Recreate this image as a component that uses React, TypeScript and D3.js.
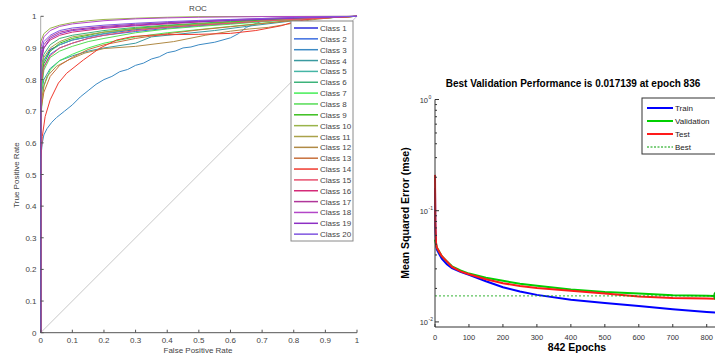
import React from "react";
import * as d3 from "d3";

// ---- ROC data (FPR, TPR) ----
const classNames = Array.from({ length: 20 }, (_, i) => "Class " + (i + 1));
const classColors = [
  "#2b2bdc", "#3b6de0", "#3c8ac4", "#3a9aa0", "#45b5a5",
  "#3cb37a", "#44ee55", "#55dd55", "#3cbf1e", "#9ab44a",
  "#aaa24a", "#b08a45", "#c8703c", "#f03a2e", "#e8506e",
  "#d42a78", "#b0369a", "#b346c8", "#8d2fc4", "#7f55e0",
];
const rocCurves: [number, number][][] = [
  [[0, 0], [0, 0.8], [0.01, 0.86], [0.03, 0.895], [0.06, 0.91], [0.1, 0.925], [0.15, 0.935], [0.2, 0.945], [0.3, 0.958], [0.4, 0.966], [0.5, 0.973], [0.6, 0.979], [0.7, 0.985], [0.8, 0.99], [0.9, 0.996], [1, 1]],
  [[0, 0], [0, 0.76], [0.01, 0.84], [0.03, 0.88], [0.06, 0.9], [0.1, 0.915], [0.15, 0.93], [0.2, 0.94], [0.3, 0.952], [0.4, 0.962], [0.5, 0.97], [0.6, 0.977], [0.7, 0.984], [0.8, 0.99], [0.9, 0.996], [1, 1]],
  [[0, 0], [0, 0.55], [0.005, 0.6], [0.01, 0.625], [0.02, 0.645], [0.035, 0.665], [0.05, 0.68], [0.075, 0.7], [0.1, 0.72], [0.125, 0.745], [0.15, 0.765], [0.175, 0.785], [0.2, 0.8], [0.225, 0.81], [0.25, 0.825], [0.275, 0.832], [0.3, 0.845], [0.325, 0.852], [0.35, 0.865], [0.375, 0.872], [0.4, 0.885], [0.425, 0.89], [0.45, 0.9], [0.475, 0.903], [0.5, 0.91], [0.55, 0.918], [0.6, 0.932], [0.625, 0.945], [0.65, 0.965], [0.675, 0.975], [0.7, 0.985], [0.8, 0.995], [1, 1]],
  [[0, 0], [0, 0.74], [0.01, 0.8], [0.03, 0.835], [0.06, 0.86], [0.1, 0.875], [0.15, 0.89], [0.2, 0.9], [0.3, 0.915], [0.35, 0.935], [0.45, 0.945], [0.55, 0.955], [0.65, 0.968], [0.75, 0.98], [0.85, 0.992], [1, 1]],
  [[0, 0], [0, 0.8], [0.01, 0.86], [0.03, 0.89], [0.06, 0.91], [0.1, 0.925], [0.2, 0.945], [0.3, 0.96], [0.4, 0.968], [0.5, 0.975], [0.6, 0.982], [0.7, 0.988], [0.8, 0.993], [1, 1]],
  [[0, 0], [0, 0.83], [0.01, 0.88], [0.03, 0.91], [0.06, 0.93], [0.1, 0.94], [0.2, 0.955], [0.3, 0.965], [0.4, 0.972], [0.5, 0.978], [0.6, 0.984], [0.7, 0.99], [0.8, 0.994], [1, 1]],
  [[0, 0], [0, 0.68], [0.01, 0.78], [0.03, 0.83], [0.06, 0.86], [0.1, 0.88], [0.15, 0.9], [0.2, 0.915], [0.3, 0.935], [0.4, 0.948], [0.5, 0.958], [0.6, 0.968], [0.7, 0.978], [0.8, 0.988], [0.9, 0.995], [1, 1]],
  [[0, 0], [0, 0.74], [0.01, 0.83], [0.03, 0.87], [0.06, 0.89], [0.1, 0.905], [0.15, 0.92], [0.2, 0.93], [0.3, 0.948], [0.4, 0.96], [0.5, 0.968], [0.6, 0.975], [0.7, 0.983], [0.8, 0.99], [1, 1]],
  [[0, 0], [0, 0.77], [0.01, 0.85], [0.03, 0.89], [0.06, 0.915], [0.1, 0.93], [0.2, 0.95], [0.3, 0.962], [0.4, 0.97], [0.5, 0.976], [0.6, 0.982], [0.7, 0.988], [0.8, 0.993], [1, 1]],
  [[0, 0], [0, 0.92], [0.01, 0.945], [0.03, 0.962], [0.06, 0.972], [0.1, 0.98], [0.15, 0.986], [0.2, 0.99], [0.3, 0.994], [0.4, 0.997], [0.5, 0.999], [1, 1]],
  [[0, 0], [0, 0.82], [0.01, 0.87], [0.03, 0.9], [0.06, 0.92], [0.1, 0.935], [0.2, 0.95], [0.3, 0.96], [0.4, 0.968], [0.5, 0.975], [0.6, 0.98], [0.7, 0.985], [0.8, 0.99], [0.9, 0.995], [1, 1]],
  [[0, 0], [0, 0.72], [0.01, 0.78], [0.02, 0.81], [0.05, 0.842], [0.09, 0.863], [0.14, 0.884], [0.2, 0.898], [0.3, 0.905], [0.42, 0.92], [0.52, 0.94], [0.6, 0.953], [0.66, 0.96], [0.72, 0.965], [0.78, 0.975], [0.85, 0.988], [0.92, 0.996], [1, 1]],
  [[0, 0], [0, 0.7], [0.01, 0.76], [0.03, 0.81], [0.06, 0.845], [0.1, 0.87], [0.15, 0.895], [0.2, 0.91], [0.3, 0.93], [0.4, 0.945], [0.5, 0.957], [0.6, 0.967], [0.7, 0.977], [0.8, 0.987], [0.9, 0.995], [1, 1]],
  [[0, 0], [0, 0.55], [0.005, 0.62], [0.014, 0.683], [0.03, 0.736], [0.056, 0.789], [0.082, 0.82], [0.135, 0.862], [0.188, 0.9], [0.24, 0.925], [0.29, 0.936], [0.345, 0.94], [0.4, 0.942], [0.5, 0.943], [0.6, 0.946], [0.68, 0.955], [0.76, 0.97], [0.8, 0.982], [0.86, 0.993], [1, 1]],
  [[0, 0], [0, 0.78], [0.01, 0.84], [0.03, 0.875], [0.06, 0.9], [0.1, 0.915], [0.15, 0.93], [0.2, 0.94], [0.3, 0.955], [0.4, 0.965], [0.5, 0.972], [0.6, 0.978], [0.7, 0.985], [0.8, 0.99], [1, 1]],
  [[0, 0], [0, 0.85], [0.01, 0.9], [0.03, 0.925], [0.06, 0.94], [0.1, 0.95], [0.2, 0.962], [0.3, 0.97], [0.4, 0.976], [0.5, 0.982], [0.6, 0.987], [0.7, 0.991], [0.8, 0.995], [1, 1]],
  [[0, 0], [0, 0.87], [0.01, 0.91], [0.03, 0.935], [0.06, 0.95], [0.1, 0.958], [0.2, 0.968], [0.3, 0.975], [0.4, 0.98], [0.5, 0.985], [0.6, 0.989], [0.7, 0.993], [0.8, 0.996], [1, 1]],
  [[0, 0], [0, 0.9], [0.01, 0.935], [0.03, 0.955], [0.06, 0.968], [0.1, 0.976], [0.2, 0.986], [0.3, 0.992], [0.4, 0.995], [0.5, 0.997], [0.7, 0.999], [1, 1]],
  [[0, 0], [0, 0.86], [0.01, 0.9], [0.03, 0.93], [0.06, 0.945], [0.1, 0.955], [0.2, 0.965], [0.3, 0.972], [0.4, 0.978], [0.5, 0.983], [0.6, 0.987], [0.7, 0.99], [0.8, 0.994], [1, 1]],
  [[0, 0], [0, 0.88], [0.01, 0.92], [0.03, 0.94], [0.06, 0.955], [0.1, 0.963], [0.2, 0.972], [0.3, 0.978], [0.4, 0.983], [0.5, 0.987], [0.6, 0.99], [0.7, 0.993], [0.8, 0.996], [1, 1]],
];
const rocTicks = [0, 0.1, 0.2, 0.3, 0.4, 0.5, 0.6, 0.7, 0.8, 0.9, 1];

// ---- training performance data ----
const epochs = [0, 1, 3, 5, 10, 20, 35, 50, 75, 100, 150, 200, 250, 300, 400, 500, 600, 700, 800, 842];
const trainPerf = [0.16, 0.07, 0.05, 0.045, 0.042, 0.037, 0.033, 0.0304, 0.0282, 0.0265, 0.0232, 0.0205, 0.0188, 0.0175, 0.0158, 0.0148, 0.0139, 0.013, 0.0123, 0.012];
const valPerf = [0.055, 0.053, 0.05, 0.047, 0.044, 0.039, 0.035, 0.0316, 0.029, 0.0272, 0.025, 0.0234, 0.022, 0.0211, 0.0196, 0.0186, 0.018, 0.0174, 0.0172, 0.0171];
const testPerf = [0.21, 0.08, 0.052, 0.047, 0.044, 0.039, 0.035, 0.0312, 0.0285, 0.0268, 0.0242, 0.0223, 0.021, 0.0202, 0.0191, 0.018, 0.0169, 0.0164, 0.0162, 0.0161];
const bestEpoch = 836;
const bestPerf = 0.017139;
const epochTicks = [0, 100, 200, 300, 400, 500, 600, 700, 800];
const perfTickExps = [0, -1, -2];
const perfSeries = [
  { name: "Train", values: trainPerf, color: "#0000ff" },
  { name: "Validation", values: valPerf, color: "#00d000" },
  { name: "Test", values: testPerf, color: "#ff1a1a" },
];

const font = "'Liberation Sans', Arial, sans-serif";

function RocChart() {
  const x = d3.scaleLinear().domain([0, 1]).range([40.7, 357]);
  const y = d3.scaleLinear().domain([0, 1]).range([332.7, 16.3]);
  const line = d3.line<[number, number]>().x((d) => x(d[0])).y((d) => y(d[1]));
  const axisColor = "#555";
  return (
    <g fontFamily={font}>
      <text x={198} y={11} fontSize={8} fill="#444" textAnchor="middle">ROC</text>
      {/* chance line */}
      <line x1={x(0)} y1={y(0)} x2={x(1)} y2={y(1)} stroke="#c8c8c8" strokeWidth={1} />
      {rocCurves.map((c, i) => (
        <path key={i} d={line(c) || ""} fill="none" stroke={classColors[i]} strokeWidth={1} />
      ))}
      {/* axes */}
      <line x1={x(0)} y1={y(0)} x2={x(1)} y2={y(0)} stroke={axisColor} />
      <line x1={x(0)} y1={y(0)} x2={x(0)} y2={y(1)} stroke={axisColor} strokeOpacity={0.5} />
      {rocTicks.map((t) => (
        <g key={"x" + t}>
          <line x1={x(t)} x2={x(t)} y1={y(0)} y2={y(0) - 3} stroke={axisColor} />
          <text x={x(t)} y={343} fontSize={8} fill="#444" textAnchor="middle">{t}</text>
        </g>
      ))}
      {rocTicks.map((t) => (
        <g key={"y" + t}>
          <line x1={x(0)} x2={x(0) + 3} y1={y(t)} y2={y(t)} stroke={axisColor} />
          <text x={36.5} y={y(t) + 3} fontSize={8} fill="#444" textAnchor="end">{t}</text>
        </g>
      ))}
      <text x={198} y={353} fontSize={8} fill="#444" textAnchor="middle">False Positive Rate</text>
      <text transform="translate(19,175) rotate(-90)" fontSize={8} fill="#444" textAnchor="middle">True Positive Rate</text>
      {/* legend */}
      <rect x={291} y={21} width={62} height={220} fill="#fff" stroke="#8a8a8a" strokeWidth={1} />
      {classNames.map((n, i) => {
        const ly = 28 + i * 10.85;
        return (
          <g key={n}>
            <line x1={294} x2={318} y1={ly} y2={ly} stroke={classColors[i]} strokeWidth={1.5} />
            <text x={320} y={ly + 3} fontSize={8} fill="#444">{n}</text>
          </g>
        );
      })}
    </g>
  );
}

function PerfChart() {
  const x = d3.scaleLinear().domain([0, 842]).range([435, 721]);
  const y = d3.scaleLog().domain([0.009, 1]).range([327, 99.5]);
  const line = d3.line<number>().x((_, i) => x(epochs[i])).y((d) => y(d));
  const minor: number[] = [];
  [0.01, 0.1].forEach((b) => { for (let k = 2; k <= 9; k++) minor.push(b * k); });
  const axisColor = "#333";
  return (
    <g fontFamily={font}>
      <text x={573} y={87} fontSize={10} fontWeight="bold" textAnchor="middle" fill="#000">
        Best Validation Performance is 0.017139 at epoch 836
      </text>
      {perfSeries.map((s) => (
        <path key={s.name} d={line(s.values) || ""} fill="none" stroke={s.color} strokeWidth={2} />
      ))}
      <line x1={x(0)} x2={x(842)} y1={y(bestPerf)} y2={y(bestPerf)} stroke="#00a000" strokeWidth={0.8} strokeDasharray="2,2" />
      <circle cx={x(bestEpoch)} cy={y(bestPerf)} r={5} fill="none" stroke="#00b000" strokeWidth={1.5} />
      {/* axes */}
      <line x1={x(0)} x2={x(842)} y1={327} y2={327} stroke={axisColor} />
      <line x1={x(0)} x2={x(0)} y1={99.5} y2={327} stroke={axisColor} />
      {epochTicks.map((t) => (
        <g key={"x" + t}>
          <line x1={x(t)} x2={x(t)} y1={327} y2={324} stroke={axisColor} />
          <text x={x(t)} y={339.5} fontSize={7.5} fill="#333" textAnchor="middle">{t}</text>
        </g>
      ))}
      {perfTickExps.map((e) => (
        <g key={"y" + e}>
          <line x1={x(0)} x2={x(0) + 4} y1={y(Math.pow(10, e))} y2={y(Math.pow(10, e))} stroke={axisColor} />
          <text x={428} y={y(Math.pow(10, e)) + 3} fontSize={7.5} fill="#333" textAnchor="end">10</text>
          <text x={428.5} y={y(Math.pow(10, e)) - 1} fontSize={5} fill="#333">{e}</text>
        </g>
      ))}
      {minor.map((m) => (
        <line key={"m" + m} x1={x(0)} x2={x(0) + 2} y1={y(m)} y2={y(m)} stroke={axisColor} />
      ))}
      <text x={577} y={351} fontSize={10.5} fontWeight="bold" textAnchor="middle" fill="#000">842 Epochs</text>
      <text transform="translate(409,213) rotate(-90)" fontSize={10.5} fontWeight="bold" textAnchor="middle" fill="#000">
        Mean Squared Error  (mse)
      </text>
      {/* legend */}
      <rect x={642} y={98} width={80} height={56} fill="#fff" stroke="#333" strokeWidth={1} />
      {perfSeries.map((s, i) => {
        const ly = 108 + i * 13;
        return (
          <g key={s.name}>
            <line x1={647} x2={673} y1={ly} y2={ly} stroke={s.color} strokeWidth={2} />
            <text x={675} y={ly + 3} fontSize={8} fill="#222">{s.name}</text>
          </g>
        );
      })}
      <line x1={647} x2={673} y1={147} y2={147} stroke="#00a000" strokeWidth={1} strokeDasharray="2,1.5" />
      <text x={675} y={150} fontSize={8} fill="#222">Best</text>
    </g>
  );
}

export default function App() {
  return (
    <svg width={715} height={356} style={{ position: "absolute", left: 0, top: 0, background: "#fff" }}>
      <rect width={715} height={356} fill="#fff" />
      <RocChart />
      <PerfChart />
    </svg>
  );
}
